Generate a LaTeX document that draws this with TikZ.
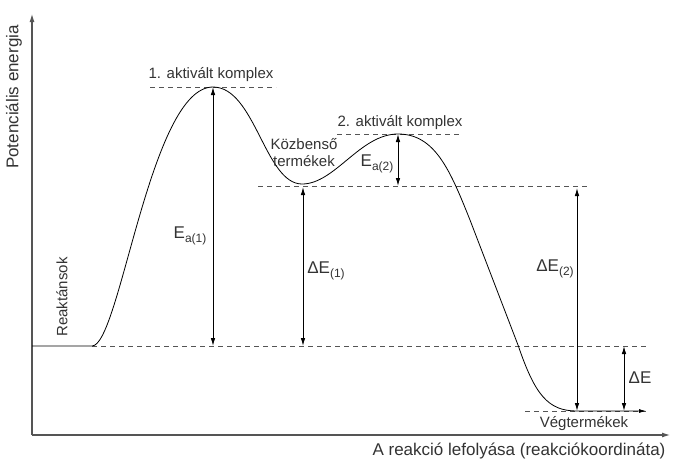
\documentclass[tikz,border=0pt]{standalone}
\usepackage{fontspec}
\setmainfont{Liberation Sans}
\usepackage{tikz}
\usetikzlibrary{arrows.meta, positioning, calc}
\definecolor{axisgray}{HTML}{555555}
\definecolor{textgray}{HTML}{333333}
\newcommand{\lowidx}[1]{\raisebox{-0.45ex}{\fontsize{12}{12}\selectfont #1}}
\tikzstyle{axis} = [axisgray, line width=1.1pt, -{Latex[length=8pt,width=5pt]}]
\tikzstyle{level} = [axisgray, dashed, dash pattern=on 5pt off 4pt, line width=0.7pt]
\tikzstyle{gap} = [black, line width=0.9pt, {Latex[length=8pt,width=4.5pt]}-{Latex[length=8pt,width=4.5pt]}]
\tikzstyle{lbl} = [text=textgray, font=\fontsize{15}{17}\selectfont, inner sep=0pt]
\tikzstyle{big} = [text=textgray, font=\fontsize{17}{19}\selectfont, inner sep=0pt]

\begin{document}
\begin{tikzpicture}[x=1pt, y=-1pt, align=center]
\useasboundingbox (0,0) rectangle (673,459);
% energy levels
\coordinate (origin) at (32,435);
\coordinate (reac) at (92,346);
\coordinate (ts1) at (213,87);
\coordinate (inter) at (302,186);
\coordinate (ts2) at (398,134);
\coordinate (prod) at (577,411);

% axes
\draw [axis] (origin) -- (32,14);
\draw [axis] (origin) -- (670,435);

% dashed levels
\draw [level] (150,87) -- (276,87);
\draw [level] (337,134) -- (460,134);
\draw [level] (258,186) -- (588,186);
\draw [level] (reac) -- (646,346);
\draw [level] (525,411) -- (646,411);

% energy curve
\draw [black, line width=0.8pt, -{Latex[length=7pt,width=4pt]}] (32,346) -- (reac)
  .. controls (120,346) and (150,87) .. (ts1)
  .. controls (255,87) and (265,184) .. (302,184)
  .. controls (335,184) and (360,134) .. (ts2)
  .. controls (435,134) and (450,170) .. (470,220)
  -- (518,345)
  .. controls (535,395) and (548,411) .. (prod) -- (646,411);

% energy differences
\draw [gap] (ts1) -- (213,346);
\draw [gap] (303,187) -- (303,346);
\draw [gap] (ts2) -- (398,186);
\draw [gap] (577,188) -- (prod);
\draw [gap] (624,346) -- (624,411);

% labels
\node (lts1) [lbl] at (211,75) {1. aktivált komplex};
\node (lts2) [lbl] at (400,123) {2. aktivált komplex};
\node (linter) [lbl] at (304,153) {Közbenső\\termékek};
\node (lea1) [big] at (190,236) {E\lowidx{a(1)}};
\node (lde1) [big] at (326,271) {ΔE\lowidx{(1)}};
\node (lea2) [big] at (377,164) {E\lowidx{a(2)}};
\node (lde2) [big] at (555,269) {ΔE\lowidx{(2)}};
\node (lde) [big] at (640,378) {ΔE};
\node (lprod) [lbl] at (584,424) {Végtermékek};
\node (lreac) [lbl, rotate=90] at (62,297) {Reaktánsok};
\node (lyaxis) [big, rotate=90] at (14,97) {Potenciális energia};
\node (lxaxis) [big] at (519,451) {A reakció lefolyása (reakciókoordináta)};
\end{tikzpicture}
\end{document}
